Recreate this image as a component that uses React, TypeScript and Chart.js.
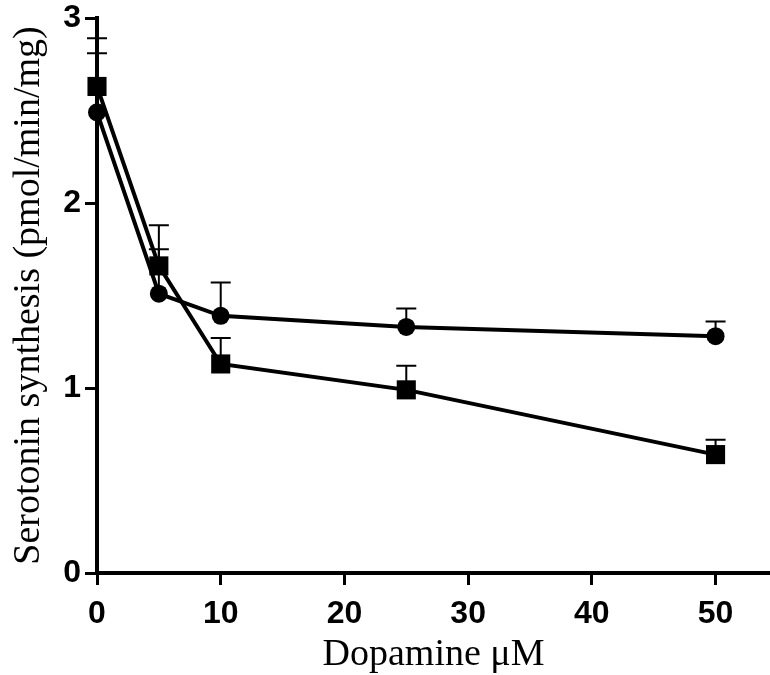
import React, { useEffect, useRef } from "react";
import { Chart, registerables } from "chart.js";

Chart.register(...registerables);

const doseX = [0, 5, 10, 25, 50];
const circleY = [2.49, 1.51, 1.39, 1.33, 1.28];
const circleErr = [0.32, 0.24, 0.18, 0.1, 0.08];
const squareY = [2.63, 1.66, 1.13, 0.99, 0.64];
const squareErr = [0.26, 0.22, 0.14, 0.13, 0.08];
const xTicks = [0, 10, 20, 30, 40, 50];
const yTicks = [0, 1, 2, 3];

const errorBarPlugin = {
  id: "errorBars",
  beforeDatasetsDraw(chart: any) {
    const { ctx, scales } = chart;
    const xs = scales.x;
    const ys = scales.y;
    const sets = [
      { y: circleY, e: circleErr },
      { y: squareY, e: squareErr },
    ];
    ctx.save();
    ctx.strokeStyle = "#000";
    ctx.lineWidth = 2;
    sets.forEach((s) => {
      doseX.forEach((xv, i) => {
        const px = xs.getPixelForValue(xv);
        const py = ys.getPixelForValue(s.y[i]);
        const pt = ys.getPixelForValue(s.y[i] + s.e[i]);
        ctx.beginPath();
        ctx.moveTo(px, py);
        ctx.lineTo(px, pt);
        ctx.moveTo(px - 10, pt);
        ctx.lineTo(px + 10, pt);
        ctx.stroke();
      });
    });
    ctx.restore();
  },
};

export default function App() {
  const ref = useRef<HTMLCanvasElement | null>(null);
  useEffect(() => {
    if (!ref.current) return;
    const chart = new Chart(ref.current, {
      type: "scatter",
      data: {
        datasets: [
          {
            label: "circle",
            data: doseX.map((x, i) => ({ x, y: circleY[i] })),
            showLine: true,
            borderColor: "#000",
            backgroundColor: "#000",
            borderWidth: 4,
            pointStyle: "circle",
            pointRadius: 9,
            pointBorderWidth: 0,
            clip: false as any,
          },
          {
            label: "square",
            data: doseX.map((x, i) => ({ x, y: squareY[i] })),
            showLine: true,
            borderColor: "#000",
            backgroundColor: "#000",
            borderWidth: 4,
            pointStyle: "rect",
            pointRadius: 13.5,
            pointBorderWidth: 0,
            clip: false as any,
          },
        ],
      },
      options: {
        animation: false,
        responsive: false,
        layout: { padding: 0, autoPadding: false },
        plugins: {
          legend: { display: false },
          tooltip: { enabled: false },
        },
        scales: {
          x: {
            type: "linear",
            min: 0,
            max: 54.4,
            afterBuildTicks: (axis: any) => {
              axis.ticks = xTicks.map((v) => ({ value: v }));
            },
            afterFit: (axis: any) => {
              axis.height = 102;
              axis.paddingLeft = 0;
              axis.paddingRight = 0;
            },
            grid: {
              drawOnChartArea: false,
              drawTicks: true,
              tickLength: 12,
              tickWidth: 3,
              tickColor: "#000",
            },
            border: { display: true, width: 4, color: "#000" },
            ticks: {
              color: "#000",
              padding: 10,
              font: { family: "'Liberation Sans', Arial, sans-serif", weight: "bold", size: 32 },
            },
            title: {
              display: true,
              text: "Dopamine μM",
              color: "#000",
              padding: { top: 0, bottom: 0 },
              font: { family: "'Liberation Serif', 'Times New Roman', serif", size: 38, lineHeight: 1.05 },
            },
          },
          y: {
            type: "linear",
            min: 0,
            max: 3,
            afterBuildTicks: (axis: any) => {
              axis.ticks = yTicks.map((v) => ({ value: v }));
            },
            afterFit: (axis: any) => {
              axis.width = 97;
              axis.paddingTop = 18;
              axis.paddingBottom = 0;
            },
            grid: {
              drawOnChartArea: false,
              drawTicks: true,
              tickLength: 12,
              tickWidth: 3,
              tickColor: "#000",
            },
            border: { display: true, width: 4, color: "#000" },
            ticks: {
              color: "#000",
              padding: 4,
              font: { family: "'Liberation Sans', Arial, sans-serif", weight: "bold", size: 32 },
            },
            title: {
              display: true,
              text: "Serotonin synthesis (pmol/min/mg)",
              color: "#000",
              padding: { top: 6, bottom: 0 },
              font: { family: "'Liberation Serif', 'Times New Roman', serif", size: 38 },
            },
          },
        },
      },
      plugins: [errorBarPlugin],
    });
    return () => chart.destroy();
  }, []);
  return (
    <div style={{ position: "fixed", left: 0, top: 0, width: 770, height: 675, background: "#fff" }}>
      <canvas ref={ref} width={770} height={675} style={{ width: 770, height: 675 }} />
    </div>
  );
}
